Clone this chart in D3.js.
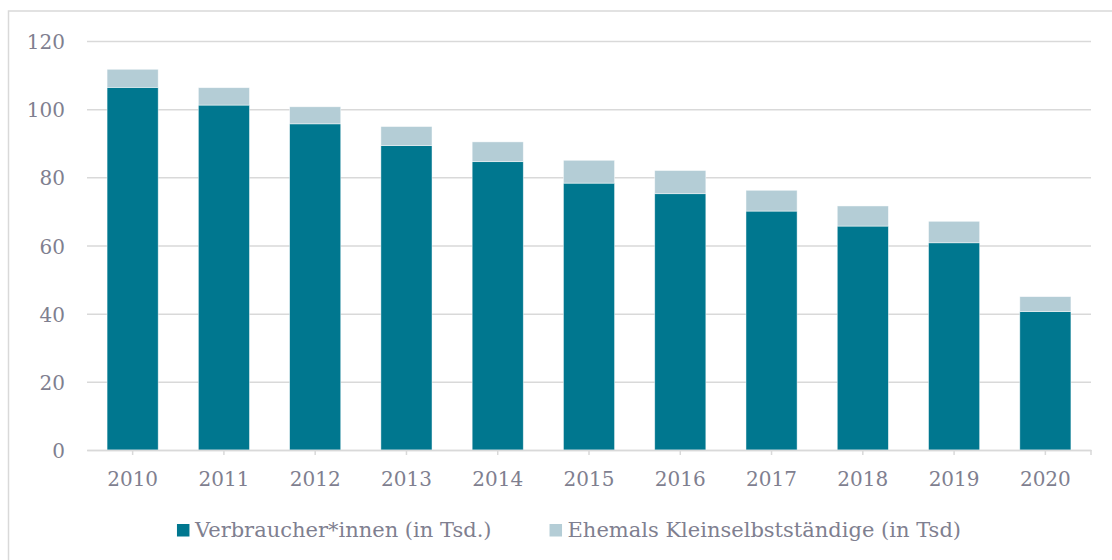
<!DOCTYPE html>
<html>
<head>
<meta charset="utf-8">
<script src="https://cdn.jsdelivr.net/npm/d3@7"></script>
<style>
  body { margin: 0; background: #fff; }
  svg { display: block; }
  text { font-family: Georgia, "DejaVu Serif", serif; fill: #7f7f90; }
</style>
</head>
<body>
<div id="chart"></div>
<script>
// years on the x axis
var years = ["2010", "2011", "2012", "2013", "2014", "2015", "2016", "2017", "2018", "2019", "2020"];
// stacked series (in Tsd.)
var verbraucher = [106.4, 101.2, 95.7, 89.3, 84.6, 78.3, 75.2, 70.1, 65.7, 60.8, 40.6];
var ehemals = [5.3, 5.1, 5.0, 5.6, 5.8, 6.7, 6.8, 6.1, 5.9, 6.3, 4.4];
var seriesNames = ["Verbraucher*innen (in Tsd.)", "Ehemals Kleinselbstständige (in Tsd)"];
var seriesColors = ["#00778f", "#b4cdd6"];
var yTicks = [0, 20, 40, 60, 80, 100, 120];

var w = 1112, h = 560;
var mLeft = 87, mRight = 1091, mTop = 41, mBottom = 450;
var grid = "#d9d9d9";

var svg = d3.select("#chart")
    .append("svg")
    .attr("width", w)
    .attr("height", h);

// outer frame, runs off the right and bottom edges
svg.append("rect")
    .attr("x", 8.5).attr("y", 11)
    .attr("width", w + 20).attr("height", h + 20)
    .attr("fill", "none")
    .attr("stroke", grid)
    .attr("stroke-width", 1.5);

var x = d3.scaleBand()
    .domain(years)
    .range([mLeft, mRight])
    .paddingInner(0.44)
    .paddingOuter(0.22);

var y = d3.scaleLinear()
    .domain([0, 120])
    .range([mBottom, mTop]);

// gridlines + y labels
var yAxis = d3.axisLeft(y)
    .tickValues(yTicks)
    .tickSize(-(mRight - mLeft))
    .tickPadding(22)
    .tickFormat(d3.format("d"));

var gy = svg.append("g")
    .attr("transform", "translate(" + mLeft + ",0)")
    .call(yAxis);
gy.select(".domain").remove();
gy.selectAll(".tick line")
    .attr("stroke", grid)
    .attr("stroke-width", 1.5);
gy.selectAll(".tick text")
    .attr("font-size", 20)
    .attr("dy", "0.38em");

// stacked bars
var rows = years.map(function(yr, i) {
    return { year: yr, a: verbraucher[i], b: ehemals[i] };
});
var layers = d3.stack().keys(["a", "b"])(rows);

svg.append("g")
    .selectAll("g")
    .data(layers)
    .join("g")
    .attr("fill", function(d, i) { return seriesColors[i]; })
    .selectAll("rect")
    .data(function(d) { return d; })
    .join("rect")
    .attr("x", function(d) { return x(d.data.year); })
    .attr("width", x.bandwidth())
    .attr("y", function(d) { return y(d[1]); })
    .attr("height", function(d) { return y(d[0]) - y(d[1]); })
    .attr("stroke", "#ffffff")
    .attr("stroke-opacity", 0.6)
    .attr("stroke-width", 0.75);

// x axis line, ticks and year labels
var xAxis = d3.axisBottom(x)
    .tickSize(5)
    .tickPadding(17)
    .tickSizeOuter(0);

var gx = svg.append("g")
    .attr("transform", "translate(0," + mBottom + ")")
    .call(xAxis);
gx.select(".domain")
    .attr("stroke", grid)
    .attr("stroke-width", 1.5);
gx.selectAll(".tick line")
    .attr("stroke", grid)
    .attr("stroke-width", 1.5);
gx.selectAll(".tick text")
    .attr("font-size", 20);
gx.append("line")
    .attr("x1", mRight).attr("x2", mRight)
    .attr("y1", 0).attr("y2", 5)
    .attr("stroke", grid)
    .attr("stroke-width", 1.5);

// legend
var legend = svg.append("g");
var items = legend.selectAll("g")
    .data(seriesNames)
    .join("g");
items.append("rect")
    .attr("width", 12.5)
    .attr("height", 12.5)
    .attr("y", -13)
    .attr("fill", function(d, i) { return seriesColors[i]; });
items.append("text")
    .attr("x", 18)
    .attr("font-size", 21)
    .text(function(d) { return d; });

var pos = 0;
items.each(function() {
    var bw = this.getBBox().width;
    d3.select(this).attr("transform", "translate(" + pos + ",0)");
    pos += bw + 58;
});
var total = pos - 58;
legend.attr("transform", "translate(" + (569 - total / 2) + ",537)");
</script>
</body>
</html>
